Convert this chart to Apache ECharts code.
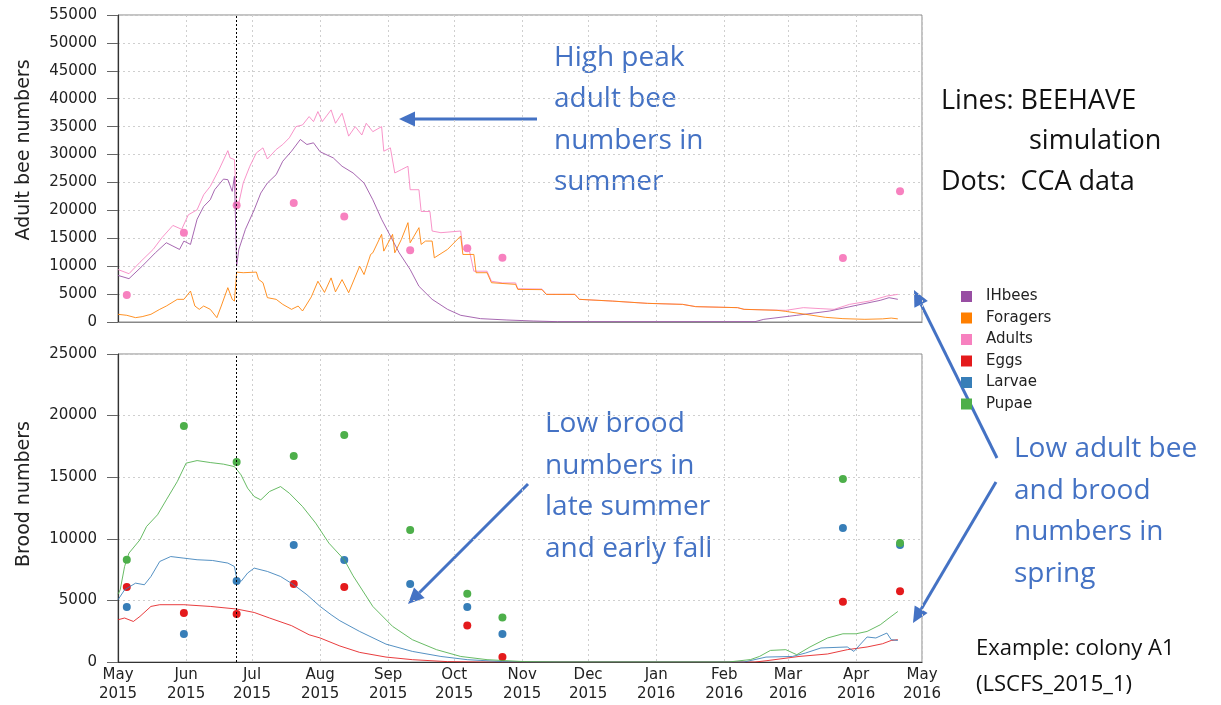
<!DOCTYPE html>
<html><head><meta charset="utf-8">
<script src="https://cdn.jsdelivr.net/npm/echarts@6/dist/echarts.min.js"></script>
<style>html,body{margin:0;padding:0;background:#fff}#c{width:1221px;height:705px}</style>
</head><body><div id="c"></div>
<script>
// ---------- DATA ----------
const monthNames = ['Jan','Feb','Mar','Apr','May','Jun','Jul','Aug','Sep','Oct','Nov','Dec'];
const xStart = '2015-05-01';
const xEnd = '2016-05-01';
const adultAxis = {min: 0, max: 55000, step: 5000};
const broodAxis = {min: 0, max: 25000, step: 5000};
const cutDate = '2015-06-24';   // dotted vertical line

// BEEHAVE simulation lines: [days since 1 May 2015, value]
const simAdults = [[0,9400],[5,8650],[10,10700],[16,13000],[20,15100],[25,17300],[29,16600],[32,19200],[36,20100],[39,22800],[42,24300],[46,27300],[50,30700],[51,29400],[53,29100],[54,20900],[55,21300],[57,24900],[60,27900],[63,30300],[66,31200],[68,29200],[72,30900],[75,31800],[78,33000],[81,35000],[84,35300],[87,36800],[89,35900],[91,37700],[93,35900],[97,38000],[99,35600],[102,37400],[105,33300],[108,35000],[111,33500],[113,35600],[116,34100],[120,35000],[121,30600],[124,31200],[126,26700],[129,27300],[132,27900],[133,23700],[137,23700],[138,19800],[142,19800],[143,16300],[147,16000],[156,16300],[157,13000],[160,12700],[162,9100],[168,9100],[170,7300],[175,7000],[181,7000],[182,5950],[193,5900],[195,4950],[208,4950],[210,4060],[225,3750],[241,3340],[257,3160],[263,2750],[282,2570],[285,2270],[304,2090],[312,2570],[320,2390],[326,2270],[333,3160],[342,3750],[350,4650],[355,4950]];
const simIHbees = [[0,8350],[5,7760],[11,10000],[17,12400],[22,14200],[25,13600],[28,13000],[30,14500],[33,13900],[36,18400],[39,20700],[42,21900],[44,23700],[48,25600],[50,25500],[52,23400],[53,26100],[54,10000],[55,13000],[58,16600],[62,20100],[65,23100],[68,24900],[72,26400],[75,28800],[79,30600],[83,32700],[86,31800],[89,32100],[92,30500],[98,29400],[102,27900],[107,26700],[112,24900],[116,21900],[120,18400],[124,15400],[128,12400],[133,9400],[137,6400],[143,4060],[150,2270],[156,1200],[165,600],[177,360],[189,180],[200,60],[290,60],[294,480],[309,1200],[324,1970],[336,2980],[347,3880],[351,4360],[355,4060]];
const simForagers = [[0,1380],[4,1200],[8,780],[11,960],[15,1380],[19,2270],[22,2860],[27,4060],[30,4060],[33,5540],[35,2860],[37,2270],[39,2860],[42,2270],[45,780],[47,2860],[50,6150],[52,4060],[53,3750],[54,8940],[57,8830],[63,8940],[64,7630],[66,7040],[68,4360],[72,4060],[75,3160],[79,2270],[82,2860],[84,1970],[88,4500],[91,7300],[94,5300],[97,7900],[99,5400],[102,7600],[105,5250],[110,10000],[112,8500],[115,12100],[116,12400],[120,15700],[121,12700],[125,15700],[126,12400],[129,14800],[132,17800],[133,14200],[137,16900],[138,13900],[140,14500],[143,14500],[144,11500],[150,13000],[156,15400],[157,12100],[162,12100],[163,8830],[168,8830],[170,7040],[181,6740],[182,5840],[193,5800],[195,4950],[208,4950],[210,4060],[225,3750],[241,3340],[257,3160],[263,2750],[282,2570],[285,2270],[300,2090],[304,1900],[313,1380],[322,840],[330,600],[340,480],[348,560],[352,700],[355,560]];
const simEggs = [[0,3430],[3,3570],[7,3290],[10,3700],[15,4510],[19,4650],[30,4650],[42,4510],[54,4300],[62,4020],[69,3570],[79,2950],[87,2210],[92,1950],[101,1300],[110,780],[122,400],[134,190],[150,30],[165,0],[290,0],[295,100],[310,450],[323,650],[332,1000],[341,1220],[348,1480],[352,1750],[355,1810]];
const simLarvae = [[0,5050],[3,5860],[8,6400],[12,6270],[15,6940],[19,8160],[24,8560],[30,8430],[36,8300],[43,8240],[50,8030],[53,7750],[54,6810],[56,6540],[59,7220],[62,7620],[68,7350],[74,6940],[80,6270],[86,5460],[92,4510],[97,3840],[101,3350],[110,2480],[122,1450],[134,860],[147,450],[159,190],[175,30],[185,0],[285,0],[295,400],[307,450],[313,730],[320,1140],[332,1220],[335,860],[341,2030],[345,1950],[350,2350],[352,1810],[355,1750]];
const simPupae = [[0,5500],[1,5860],[3,7750],[5,8840],[10,9920],[13,11000],[18,11950],[22,13160],[27,14650],[31,16140],[36,16350],[42,16190],[48,16060],[53,15860],[56,15190],[59,14110],[62,13430],[65,13160],[69,13840],[74,14240],[78,13700],[84,12620],[90,11270],[96,9650],[103,8300],[107,7000],[116,4510],[125,2890],[134,1810],[145,1000],[156,450],[168,190],[185,30],[200,0],[278,0],[288,200],[292,450],[297,940],[304,1000],[309,590],[315,1220],[323,1950],[330,2290],[336,2290],[341,2480],[347,3020],[351,3570],[355,4100]];

// CCA data (dots)
const ccaDates  = ['2015-05-05','2015-05-31','2015-06-24','2015-07-20','2015-08-12','2015-09-11','2015-10-07','2015-10-23','2016-03-26','2016-04-21'];
const ccaAdults = [4830, 15980, 20910, 21340, 18890, 12870, 13230, 11510, 11450, 23420];
const ccaEggs   = [6090, 3980, 3900, 6330, 6090, null, 2970, 400, 4900, 5750];
const ccaLarvae = [4460, 2270, 6570, 9500, 8280, 6330, 4460, 2270, 10880, 9500];
const ccaPupae  = [8300, 19150, 16230, 16720, 18430, 10710, 5540, 3620, 14850, 9660];

const legendNames = ['IHbees','Foragers','Adults','Eggs','Larvae','Pupae'];
const colors = {IHbees:'#984EA3', Foragers:'#FF7F00', Adults:'#F781BF', Eggs:'#E41A1C', Larvae:'#377EB8', Pupae:'#4DAF4A'};

// ---------- HELPERS ----------
const t0 = new Date(2015, 4, 1);
function dayToTime(d){ return new Date(t0.getFullYear(), t0.getMonth(), t0.getDate() + d).getTime(); }
function parseDate(s){ const p = s.split('-').map(Number); return new Date(p[0], p[1]-1, p[2]).getTime(); }
function simSeries(arr){ return arr.map(p => [dayToTime(p[0]), p[1]]); }
function dotSeries(vals){ return ccaDates.map((d,i) => vals[i] == null ? null : [parseDate(d), vals[i]]).filter(v => v); }

const FONT = 'DejaVu Sans';
const ANN = 'Open Sans';
const BLUE = '#4472C4';

function lineS(name, data, xi, extra){
  return Object.assign({
    name, type:'line', xAxisIndex:xi, yAxisIndex:xi, data: simSeries(data),
    showSymbol:false, symbol:'none', animation:false, silent:true,
    itemStyle:{color:colors[name]},
    lineStyle:{color:colors[name], width:1, opacity:0.85}
  }, extra || {});
}
function dotS(name, vals, xi){
  return {name, type:'scatter', xAxisIndex:xi, yAxisIndex:xi, data: dotSeries(vals),
    symbol:'circle', symbolSize:8, animation:false, silent:true,
    itemStyle:{color:colors[name], opacity:1}};
}
const cutMark = {silent:true, symbol:['none','none'], label:{show:false}, animation:false,
  lineStyle:{type:[2,2], color:'#000', width:1}, data:[{xAxis: parseDate(cutDate)}]};

function arrow(x1,y1,x2,y2){
  const a = Math.atan2(y2-y1, x2-x1), L = 16, W = 7.5;
  const bx = x2 - L*Math.cos(a), by = y2 - L*Math.sin(a);
  const px = -Math.sin(a)*W, py = Math.cos(a)*W;
  return [
    {type:'line', silent:true, shape:{x1, y1, x2:bx, y2:by}, style:{stroke:BLUE, lineWidth:3}},
    {type:'polygon', silent:true, shape:{points:[[x2,y2],[bx+px,by+py],[bx-px,by-py]]}, style:{fill:BLUE}}
  ];
}
function txt(lines, x, y0, gap, size, color, font){
  return lines.map((s,i) => ({type:'text', silent:true, x, y: y0 + i*gap,
    style:{text:s, fill:color, fontSize:size, fontFamily:font || ANN, verticalAlign:'middle', align:'left'}}));
}

function xAxisCfg(gi, showLabels){
  return {
    type:'time', gridIndex:gi, min: parseDate(xStart), max: parseDate(xEnd), splitNumber:12,
    minInterval: 28*864e5, maxInterval: 31*864e5,
    axisLine:{show:true, onZero:false, lineStyle:{color: showLabels ? '#333' : '#888', width:1.2}},
    axisTick:{show:false},
    axisLabel:{show:showLabels, showMinLabel:true, showMaxLabel:true, hideOverlap:false,
      fontFamily:FONT, fontSize:15, color:'#222', lineHeight:19, margin:4,
      formatter: v => { const d = new Date(v); return monthNames[d.getMonth()] + '\n' + d.getFullYear(); }},
    splitLine:{show:true, lineStyle:{type:[2,3], color:'#cfcfcf', width:1}}
  };
}
function yAxisCfg(gi, ax){
  return {
    type:'value', gridIndex:gi, min:ax.min, max:ax.max, interval:ax.step,
    axisLine:{show:true, lineStyle:{color:'#333', width:1.2}},
    axisTick:{show:true, inside:false, length:11, lineStyle:{color:'#666'}},
    axisLabel:{fontFamily:FONT, fontSize:15, color:'#222', margin:21, formatter: v => String(v)},
    splitLine:{show:true, lineStyle:{type:[2,3], color:'#cfcfcf', width:1}}
  };
}

const graphics = [].concat(
  [{type:'text', silent:true, x:24, y:150, rotation:Math.PI/2,
    style:{text:'Adult bee numbers', fill:'#222', fontSize:19, fontFamily:FONT, align:'center', verticalAlign:'middle'}},
   {type:'text', silent:true, x:24, y:494, rotation:Math.PI/2,
    style:{text:'Brood numbers', fill:'#222', fontSize:19, fontFamily:FONT, align:'center', verticalAlign:'middle'}}],
  txt(['High peak','adult bee','numbers in','summer'], 554, 58, 41.5, 28, BLUE),
  txt(['Low brood','numbers in','late summer','and early fall'], 545, 424, 41.7, 28, BLUE),
  txt(['Low adult bee','and brood','numbers in','spring'], 1014, 449, 41.7, 28, BLUE),
  txt(['Lines: BEEHAVE'], 941, 101, 41, 27, '#111'),
  txt(['simulation'], 1029, 141, 41, 27, '#111'),
  txt(['Dots:  CCA data'], 941, 182, 41, 27, '#111'),
  txt(['Example: colony A1','(LSCFS_2015_1)'], 976, 649, 36, 22, '#111'),
  arrow(537,119,399,119),
  arrow(528,484,408,604),
  arrow(997,458,914,290),
  arrow(996,482,913,623)
);

const option = {
  backgroundColor:'#fff',
  animation:false,
  grid:[
    {left:118, top:15, width:804, height:307, show:true, borderColor:'#888', borderWidth:1, backgroundColor:'transparent', outerBoundsMode:'none'},
    {left:118, top:354, width:804, height:308, show:true, borderColor:'#888', borderWidth:1, backgroundColor:'transparent', outerBoundsMode:'none'}
  ],
  xAxis:[xAxisCfg(0,false), xAxisCfg(1,true)],
  yAxis:[yAxisCfg(0, adultAxis), yAxisCfg(1, broodAxis)],
  legend:{
    data: legendNames, orient:'vertical', left:956, top:284, icon:'rect',
    itemWidth:11, itemHeight:11, itemGap:6.5, selectedMode:false,
    itemStyle:{borderWidth:0}, lineStyle:{width:0},
    textStyle:{fontFamily:FONT, fontSize:15, color:'#222', padding:[0,0,0,9]}
  },
  series:[
    lineS('Adults', simAdults, 0, {markLine: cutMark}),
    lineS('IHbees', simIHbees, 0),
    lineS('Foragers', simForagers, 0),
    dotS('Adults', ccaAdults, 0),
    lineS('Eggs', simEggs, 1),
    lineS('Larvae', simLarvae, 1),
    lineS('Pupae', simPupae, 1, {markLine: cutMark}),
    dotS('Eggs', ccaEggs, 1),
    dotS('Larvae', ccaLarvae, 1),
    dotS('Pupae', ccaPupae, 1)
  ],
  graphic: graphics
};
const chart = echarts.init(document.getElementById('c'), null, {renderer:'canvas'});
chart.setOption(option);
</script>
</body></html>
